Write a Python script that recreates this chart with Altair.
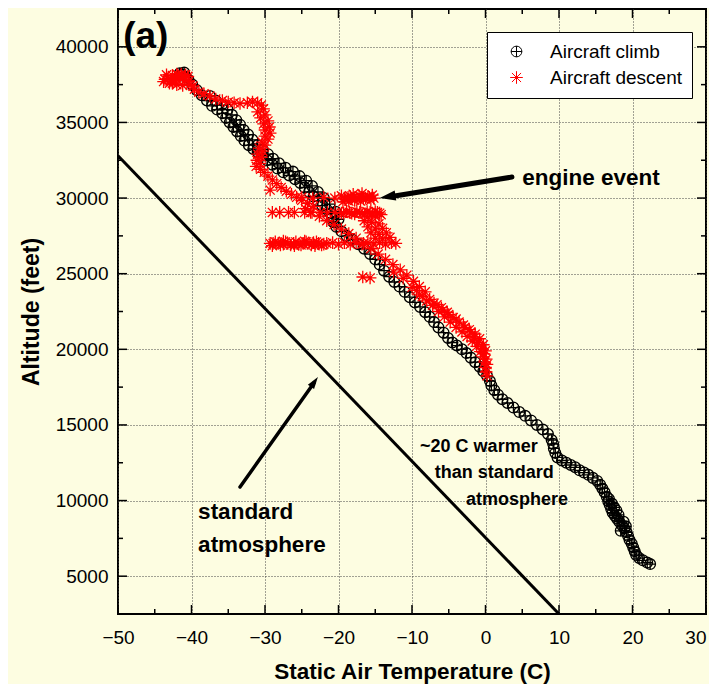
import altair as alt
import pandas as pd

# ---------------- data ----------------
climb_temp = [
    22.4, 22.0, 21.4, 20.9, 20.5, 20.3, 20.1, 19.9, 19.6, 19.4, 19.2, 18.9, 18.6, 18.2,
    17.9, 17.6, 17.3, 17.1, 16.9, 16.7, 16.5, 16.2, 15.9, 15.6, 15.2, 14.6, 14.0, 13.4,
    12.8, 12.2, 11.6, 11.0, 10.4, 9.8, 9.5, 9.3, 9.2, 9.0, 8.5, 7.8, 7.0, 6.2, 5.4, 4.6,
    3.8, 3.0, 2.3, 1.7, 1.2, 0.8, 0.6, 0.2, -0.3, -0.8, -1.4, -2.0, -2.6, -3.2, -3.9,
    -4.5, -5.1, -5.7, -6.4, -7.0, -7.6, -8.2, -8.9, -9.6, -10.3, -11.0, -11.7, -12.4,
    -13.1, -13.8, -14.4, -15.0, -15.7, -16.5, -17.3, -18.1, -18.9, -19.6, -20.3, -20.7,
    -20.9, -21.1, -21.6, -22.2, -22.8, -23.4, -24.0, -24.6, -25.2, -25.9, -26.7, -27.5,
    -28.3, -29.0, -29.7, -30.4, -31.0, -31.6, -32.2, -32.8, -33.3, -33.8, -34.3, -34.8,
    -35.3, -35.8, -36.5, -37.2, -37.9, -38.6, -39.3, -39.9, -40.4, -40.8, -41.3,
    # second pass, upper section
    -20.0, -20.4, -21.2, -22.0, -22.8, -23.6, -24.4, -25.3, -26.2, -27.2, -28.1, -28.9,
    -29.6, -30.3, -31.0, -31.7, -32.3, -32.9, -33.4, -33.9, -34.5, -35.1, -35.9, -36.7,
    -37.5, -41.0, -41.6,
    # extra loops near 9000 ft
    17.8, 17.5, 18.1, 18.8, 19.1, 18.4, 17.2, 16.8,
]
climb_alt = [
    5800, 5900, 6050, 6200, 6400, 6650, 6900, 7150, 7400, 7650, 7900, 8150, 8350, 8600,
    8800, 9000, 9200, 9450, 9700, 9950, 10250, 10550, 10800, 11050, 11300, 11500, 11700, 11850,
    12000, 12200, 12350, 12500, 12650, 12850, 13150, 13450, 13750, 14000, 14400, 14700, 15000, 15300, 15600, 15850,
    16150, 16450, 16700, 17000, 17300, 17600, 17900, 18250, 18550, 18850, 19150, 19450, 19750, 20000, 20250,
    20450, 20750, 21100, 21450, 21800, 22150, 22450, 22800, 23100, 23450, 23800, 24150, 24450,
    24800, 25200, 25600, 25950, 26300, 26650, 26950, 27250, 27500, 27800, 28100, 28400,
    28700, 29000, 29250, 29500, 29800, 30100, 30400, 30700, 31000, 31250, 31500, 31700,
    31950, 32200, 32500, 32800, 33050, 33250, 33500, 33800, 34100, 34400, 34700, 35000,
    35300, 35600, 35850, 36100, 36450, 36800, 37150, 37500, 37800, 38000, 38150,
    28600, 29100, 29600, 30000, 30400, 30800, 31150, 31450, 31750, 32000, 32300, 32600,
    32900, 33200, 33500, 33850, 34200, 34500, 34850, 35150, 35500, 35850, 36150, 36450,
    36750, 38300, 38250,
    9350, 9550, 9050, 8600, 8300, 8000, 9800, 10100,
]

descent_temp = [
    # top cluster
    -43.8, -43.2, -42.6, -42.0, -41.4, -40.8, -42.4, -41.6, -40.9, -43.0, -42.0, -41.2,
    -40.2, -39.6, -43.4, -40.5, -43.6, -42.8, -42.2, -41.8, -41.0, -40.4, -39.8, -42.6,
    # upper diagonal
    -39.0, -38.3, -37.5, -36.7, -35.8, -35.0, -34.2, -33.4,
    # knee
    -32.4, -31.7, -31.0, -30.5, -30.2,
    # vertical band
    -31.0, -30.0, -30.6, -29.6, -30.2, -29.4, -30.0, -29.3, -30.0, -29.6, -30.4, -30.0,
    -30.8, -30.3, -31.0, -30.5, -31.1, -30.7, -31.2, -30.6, -30.1, -29.6, -29.0, -28.4,
    -27.8, -27.1, -26.4, -25.7, -25.0, -24.2, -23.4, -29.3,
    # row near 30000 ft
    -25.0, -23.5, -22.0, -20.5, -19.6, -19.0, -18.4, -17.8, -17.2, -16.6, -16.0, -15.6,
    -19.4, -18.0, -16.8, -15.4, -19.2, -18.7, -18.2, -17.5, -16.9, -16.3, -15.8, -15.2,
    -17.0, -18.6,
    # row near 29000 ft
    -29.0, -28.0, -26.8, -26.0, -24.6, -23.8, -22.5, -21.5, -20.5, -19.6, -18.9, -18.2,
    -17.5, -16.8, -16.1, -15.4, -14.7, -14.2, -15.0, -16.0, -19.3, -18.5, -17.8, -17.1,
    -16.4, -15.7, -15.0, -14.4,
    # block between rows
    -16.5, -15.5, -14.5, -16.0, -15.0, -14.0, -15.6, -14.5, -13.5, -15.0, -14.0, -13.0,
    # row near 27000 ft
    -29.3, -28.6, -27.9, -27.2, -26.5, -25.8, -25.1, -24.4, -23.7, -23.0, -22.3, -21.6,
    -20.8, -20.0, -19.2, -18.4, -17.6, -16.8, -16.0, -15.2, -14.4, -13.6, -12.8, -12.2,
    -29.0, -27.5, -26.0, -24.6, -23.2, -28.9, -28.2, -27.5, -26.9, -26.1, -25.4, -24.8,
    -24.0, -23.4, -22.7, -22.0,
    # outliers below rows
    -16.7, -15.7,
    # lower diagonal
    -24.5, -23.6, -22.6, -21.6, -20.6, -19.6, -18.6, -17.6, -16.6, -15.6, -14.6, -13.6,
    -12.6, -11.6, -10.7, -9.8, -9.0, -8.2, -12.5, -11.2, -10.0, -9.0, -8.0, -7.2,
    -6.4, -5.6, -4.8, -4.0, -3.2, -2.5, -1.8, -1.2, -0.7, -0.3, -0.1, 0.0,
    0.1, 0.2, -7.6, -6.6, -5.8, -5.0, -4.0, -3.0, -2.2, -1.4, -0.8, -0.3, 0.0,
    -9.4, -8.6, -7.0, -6.0, -5.2, -4.4, -3.6, -2.8, -2.0, -1.5, -1.0, -0.5, -0.2, 0.1, 0.2,
]
descent_alt = [
    37700, 37900, 38100, 38200, 38200, 38150, 37850, 37900, 37800, 37600, 37500, 37450,
    37500, 37200, 38150, 38050, 37850, 37750, 37950, 38100, 38000, 37700, 37400, 37600,
    37000, 36900, 36750, 36550, 36450, 36350, 36300, 36250,
    36300, 36350, 36300, 36150, 35900,
    35700, 35500, 35300, 35100, 34900, 34700, 34500, 34300, 34100, 33900, 33700, 33500,
    33300, 33100, 32900, 32700, 32500, 32300, 32100, 31900, 31700, 31450, 31200, 30950,
    30700, 30450, 30250, 30050, 29850, 29650, 29450, 30530,
    30050, 30000, 30050, 30000, 30150, 29900, 30100, 29850, 30150, 29950, 30100, 29850,
    29750, 30250, 30300, 30200, 30000, 30050, 29950, 30000, 30050, 30000, 30050, 30000,
    29800, 29800,
    29050, 29050, 29050, 29050, 29050, 29050, 29050, 29050, 29050, 29000, 29100, 29000,
    29100, 29000, 29100, 29000, 29050, 28900, 28800, 28750, 29000, 29050, 28950, 29050,
    28950, 29050, 29100, 29000,
    28500, 28400, 28300, 28100, 27950, 28000, 27700, 27600, 27700, 27350, 27300, 27400,
    27000, 27100, 26900, 27100, 26900, 27100, 26900, 27100, 26900, 27100, 26900, 27000,
    27050, 26950, 27050, 26950, 27050, 26950, 27050, 26950, 27050, 26950, 27050, 27000,
    26850, 27150, 26850, 27150, 26850, 27000, 27000, 26950, 27000, 27000, 26950, 27000,
    27000, 27050, 27000, 26950,
    24780, 24720,
    29300, 29050, 28800, 28500, 28250, 27950, 27650, 27350, 27000, 26650, 26300, 25950,
    25600, 25250, 24900, 24500, 24150, 23800, 25100, 24700, 24100, 23600, 23200, 22900,
    22500, 22150, 21800, 21450, 21150, 20850, 20550, 20200, 19850, 19500, 19150, 18800,
    18500, 18250, 23300, 22950, 22600, 22300, 22000, 21600, 21300, 21000, 20700, 20300, 19900,
    23900, 23500, 23050, 22750, 22450, 22100, 21800, 21450, 21150, 20800, 20450, 20050, 19700, 19350, 19000,
]

series_names = ["Aircraft climb", "Aircraft descent"]

std_temp = [-50, 10]
std_alt = [32800, 2500]

x_major = [-50, -40, -30, -20, -10, 0, 10, 20, 30]
x_minor = [-45, -35, -25, -15, -5, 5, 15, 25]
y_major = [5000, 10000, 15000, 20000, 25000, 30000, 35000, 40000]
y_minor = [2500, 7500, 12500, 17500, 22500, 27500, 32500, 37500, 42500]

# annotation anchors (data coordinates)
big_text = ["standard", "atmosphere", "engine event"]
big_temp = [-39.1, -39.1, 5.0]
big_alt = [8780, 6600, 30870]
small_text = ["~20 C warmer", "than standard", "atmosphere"]
small_temp = [-8.9, -6.9, -2.65]
small_alt = [13210, 11490, 9710]
panel_label = ["(a)"]
panel_temp = [-49.3]
panel_alt = [39920]

# arrows: tail -> shaft end; head tip
arrow1_temp = [3.6, -12.8]
arrow1_alt = [31390, 30100]
arrow2_temp = [-33.4, -23.3]
arrow2_alt = [10900, 17800]
head_temp = [-14.4, -22.8]
head_alt = [30000, 18170]
head_angle = [261, 35]
head_size = [400, 230]

# ---------------- build ----------------
W, H = 588, 605
FONT = "Liberation Sans"
BG = "#FDFDE1"

xs = alt.Scale(domain=[-50, 30], nice=False, zero=False)
ys = alt.Scale(domain=[2500, 42500], nice=False, zero=False)

xaxis = alt.Axis(values=x_major, title="Static Air Temperature (C)", grid=True,
                 ticks=False, domain=False, labelPadding=14, titlePadding=13,
                 labelFontSize=19, titleFontSize=22.5, labelFlush=False, format="d",
                 labelAlign={"condition": {"test": "datum.value == 30", "value": "right"}, "value": "center"})
yaxis = alt.Axis(values=y_major, title="Altitude (feet)", grid=True, ticks=False,
                 domain=False, labelPadding=10, titlePadding=12, format="d",
                 labelFontSize=19, titleFontSize=23, labelFlush=False)

X = alt.X("temp:Q", scale=xs, axis=xaxis)
Y = alt.Y("alt:Q", scale=ys, axis=yaxis)

pts = pd.concat([
    pd.DataFrame({"temp": climb_temp, "alt": climb_alt, "series": series_names[0]}),
    pd.DataFrame({"temp": descent_temp, "alt": descent_alt, "series": series_names[1]}),
], ignore_index=True)

circle_plus = "M-1,0A1,1 0 1,0 1,0A1,1 0 1,0 -1,0M-1,0L1,0M0,-1L0,1"
asterisk = "M-1,0L1,0M0,-1L0,1M-0.72,-0.72L0.72,0.72M-0.72,0.72L0.72,-0.72"

legend = alt.Legend(title=None, orient="none", legendX=369, legendY=23,
                    fillColor="white", strokeColor="black", padding=10,
                    symbolOffset=10, labelOffset=24, labelFontSize=19, labelFont=FONT,
                    symbolSize=150, symbolStrokeWidth=1, rowPadding=6, labelLimit=300)

std_line = alt.Chart(pd.DataFrame({"temp": std_temp, "alt": std_alt})).mark_line(
    color="black", strokeWidth=3).encode(x=X, y=Y)

points = alt.Chart(pts).mark_point(filled=False, strokeWidth=1.3, opacity=1).encode(
    x=X, y=Y,
    color=alt.Color("series:N", scale=alt.Scale(domain=series_names, range=["black", "red"]), legend=legend),
    shape=alt.Shape("series:N", scale=alt.Scale(domain=series_names, range=[circle_plus, asterisk]), legend=legend),
    size=alt.Size("series:N", scale=alt.Scale(domain=series_names, range=[115, 160]), legend=None),
    order=alt.Order("idx:Q"),
).transform_window(idx="row_number()")

arrow1 = alt.Chart(pd.DataFrame({"temp": arrow1_temp, "alt": arrow1_alt})).mark_line(
    color="black", strokeWidth=5, strokeCap="round").encode(x=X, y=Y)
arrow2 = alt.Chart(pd.DataFrame({"temp": arrow2_temp, "alt": arrow2_alt})).mark_line(
    color="black", strokeWidth=3.5, strokeCap="round").encode(x=X, y=Y)
heads = alt.Chart(pd.DataFrame({"temp": head_temp, "alt": head_alt, "ang": head_angle, "sz": head_size})).mark_point(
    shape="M0,0L-0.5,1.6L0.5,1.6Z", filled=True, color="black", opacity=1).encode(
    x=X, y=Y, angle=alt.Angle("ang:Q", scale=None), size=alt.Size("sz:Q", scale=None))

big = alt.Chart(pd.DataFrame({"temp": big_temp, "alt": big_alt, "t": big_text})).mark_text(
    font=FONT, fontSize=22.5, fontWeight="bold", align="left", baseline="alphabetic", color="black").encode(
    x=X, y=Y, text="t:N")
small = alt.Chart(pd.DataFrame({"temp": small_temp, "alt": small_alt, "t": small_text})).mark_text(
    font=FONT, fontSize=18, fontWeight="bold", align="left", baseline="alphabetic", color="black").encode(
    x=X, y=Y, text="t:N")
panel = alt.Chart(pd.DataFrame({"temp": panel_temp, "alt": panel_alt, "t": panel_label})).mark_text(
    font=FONT, fontSize=37, fontWeight="bold", align="left", baseline="alphabetic", color="black").encode(
    x=X, y=Y, text="t:N")

def xticks(vals, length):
    d = pd.DataFrame({"temp": vals})
    b = alt.Chart(d).mark_rule(color="black", strokeWidth=1.5).encode(
        x=X, y=alt.value(H), y2=alt.value(H - length))
    t = alt.Chart(d).mark_rule(color="black", strokeWidth=1.5).encode(
        x=X, y=alt.value(0), y2=alt.value(length))
    return [b, t]

def yticks(vals, length):
    d = pd.DataFrame({"alt": vals})
    l = alt.Chart(d).mark_rule(color="black", strokeWidth=1.5).encode(
        y=Y, x=alt.value(0), x2=alt.value(length))
    r = alt.Chart(d).mark_rule(color="black", strokeWidth=1.5).encode(
        y=Y, x=alt.value(W), x2=alt.value(W - length))
    return [l, r]

tick_layers = xticks(x_major, 9) + xticks(x_minor, 5) + yticks(y_major, 9) + yticks(y_minor, 5)

chart = alt.layer(
    std_line, points, arrow1, arrow2, heads, big, small, panel, *tick_layers
).properties(
    width=W, height=H,
    autosize=alt.AutoSizeParams(type="none"),
    padding={"left": 110, "top": 1, "right": 3, "bottom": 70},
    background=BG,
).configure_view(
    stroke="black", strokeWidth=2, fill=BG
).configure_axis(
    labelFont=FONT, titleFont=FONT, labelColor="black", titleColor="black",
    titleFontWeight="bold", gridColor="#444", gridDash=[1, 2], gridWidth=1,
)

chart.save("out.html", embed_options={"renderer": "svg", "actions": False})
